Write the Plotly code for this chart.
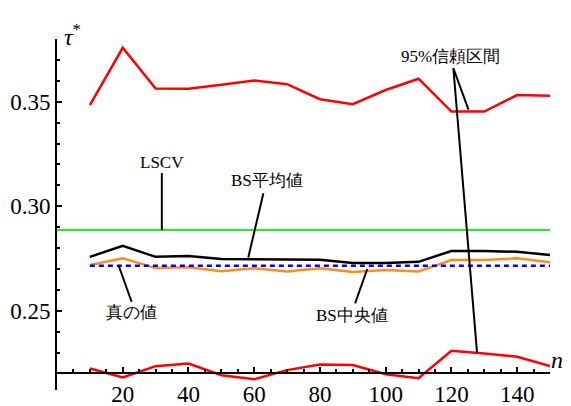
import plotly.graph_objects as go

# Sample sizes
n = [10, 20, 30, 40, 50, 60, 70, 80, 90, 100, 110, 120, 130, 140, 150]

# 95% confidence interval bounds
ci_upper = [0.3484, 0.3758, 0.3563, 0.3562, 0.3581, 0.3601, 0.3584, 0.3512, 0.3488,
            0.3556, 0.3610, 0.3453, 0.3453, 0.3532, 0.3528]
ci_lower = [0.2224, 0.2181, 0.2235, 0.2248, 0.2192, 0.2172, 0.2216, 0.2243, 0.2240,
            0.2196, 0.2177, 0.2309, 0.2296, 0.2280, 0.2235]

# Bootstrap mean and median
bs_mean = [0.2758, 0.2811, 0.2758, 0.2762, 0.2748, 0.2747, 0.2747, 0.2744, 0.2728,
           0.2728, 0.2734, 0.2786, 0.2786, 0.2782, 0.2767]
bs_median = [0.2719, 0.2751, 0.2704, 0.2708, 0.2689, 0.2703, 0.2688, 0.2703, 0.2686,
             0.2695, 0.2688, 0.2743, 0.2743, 0.2751, 0.2732]

# Constant references
lscv_value = 0.2886
true_value = 0.2715

x_ticks = [20, 40, 60, 80, 100, 120, 140]
y_ticks = [0.25, 0.30, 0.35]
y_tick_text = ["0.25", "0.30", "0.35"]

X_RANGE = [0, 150]
Y_RANGE = [0.2121, 0.38]
X_AXIS_AT = 0.22

SERIF = "Times New Roman"

W, H = 571, 406
L, R, T, B = 57, 21.25, 39, 16
plot_w = W - L - R
plot_h = H - T - B
x_axis_pos = (X_AXIS_AT - Y_RANGE[0]) / (Y_RANGE[1] - Y_RANGE[0])


def paper_xy(px, py):
    return (px - L) / plot_w, 1 - (py - T) / plot_h


fig = go.Figure()

fig.add_trace(go.Scatter(x=[0, 150], y=[lscv_value, lscv_value], mode="lines",
                         line=dict(color="#22ee22", width=2)))
fig.add_trace(go.Scatter(x=n, y=bs_median, mode="lines",
                         line=dict(color="#ff8c1a", width=2.5)))
fig.add_trace(go.Scatter(x=[n[0], n[-1]], y=[true_value, true_value], mode="lines",
                         line=dict(color="#0000ff", width=2.5, dash="5px,4px")))
fig.add_trace(go.Scatter(x=n, y=bs_mean, mode="lines",
                         line=dict(color="black", width=2.5)))
fig.add_trace(go.Scatter(x=n, y=ci_upper, mode="lines",
                         line=dict(color="#ff0000", width=2.5)))
fig.add_trace(go.Scatter(x=n, y=ci_lower, mode="lines",
                         line=dict(color="#ff0000", width=2.5)))

# Leader lines from labels to curves
leaders = [
    ((31.9, 0.3159), (31.9, lscv_value)),
    ((62.8, 0.3062), (58.2, 0.2755)),
    ((18.7, 0.2719), (22.7, 0.2543)),
    ((94.4, 0.2700), (90.7, 0.2535)),
    ((120.6, 0.3660), (125.2, 0.3462)),
    ((120.6, 0.3660), (127.8, 0.2299)),
]
for (x0, y0), (x1, y1) in leaders:
    fig.add_shape(type="line", x0=x0, y0=y0, x1=x1, y1=y1, xref="x", yref="y",
                  line=dict(color="black", width=2))

labels = [
    ("LSCV", 31.9, 0.3211),
    ("BS平均値", 63.8, 0.3125),
    ("真の値", 22.7, 0.2490),
    ("BS中央値", 89.7, 0.2476),
    ("95%信頼区間", 119.6, 0.3715),
]
for text, x, y in labels:
    fig.add_annotation(x=x, y=y, xref="x", yref="y", text=text, showarrow=False,
                       font=dict(family=SERIF, size=17, color="black"))

# Axis titles
tx, ty = paper_xy(62, 18)
fig.add_annotation(x=tx, y=ty, xref="paper", yref="paper", text="<i>τ</i><sup>*</sup>",
                   showarrow=False, font=dict(family=SERIF, size=24, color="black"))
nx, ny = paper_xy(565, 375)
fig.add_annotation(x=nx, y=ny, xref="paper", yref="paper", text="<i>n</i>",
                   showarrow=False, font=dict(family=SERIF, size=24, color="black"))

fig.update_layout(
    template="none",
    width=W, height=H,
    margin=dict(l=L, r=R, t=T, b=B, pad=0),
    plot_bgcolor="white", paper_bgcolor="white",
    showlegend=False,
    xaxis=dict(range=X_RANGE, showgrid=False, zeroline=False, automargin=False,
               showline=True, linecolor="black", linewidth=2,
               anchor="free", position=x_axis_pos,
               tickvals=x_ticks, ticks="inside", ticklen=5, tickwidth=1.5,
               tickcolor="black",
               tickfont=dict(family=SERIF, size=23, color="black"),
               minor=dict(dtick=5, tick0=0, ticks="inside", ticklen=3,
                          tickwidth=1.5, tickcolor="black", showgrid=False)),
    yaxis=dict(range=Y_RANGE, showgrid=False, zeroline=False, automargin=False,
               showline=True, linecolor="black", linewidth=2,
               tickvals=y_ticks, ticktext=y_tick_text,
               ticks="inside", ticklen=5, tickwidth=1.5, tickcolor="black",
               tickfont=dict(family=SERIF, size=23, color="black"),
               minor=dict(dtick=0.01, tick0=0.22, ticks="inside", ticklen=3,
                          tickwidth=1.5, tickcolor="black", showgrid=False)),
)

fig.write_html("out.html")
